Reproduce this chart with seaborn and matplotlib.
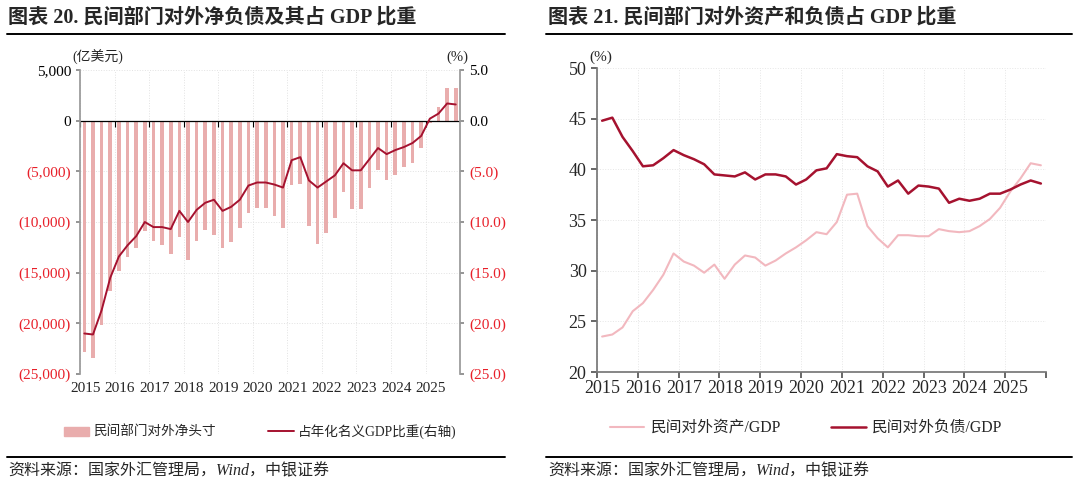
import numpy as np
import pandas as pd
import matplotlib
matplotlib.use('Agg')
import matplotlib.pyplot as plt
import seaborn as sns
from matplotlib.ticker import FuncFormatter
from matplotlib.lines import Line2D
from matplotlib.patches import Patch

# quarters 2015Q1 - 2025Q4
years = list(range(2015, 2026))
quarters = [f"{y}Q{q}" for y in years for q in range(1, 5)]

# 民间部门对外净头寸 (亿美元)
net_position = [-22800, -23400, -20200, -16800, -14800, -13500, -12600, -10900,
                -11900, -12300, -13200, -11500, -13700, -11900, -10800, -11300,
                -12600, -12000, -10600, -9100, -8600, -8600, -9400, -10600,
                -6300, -6200, -10400, -12200, -11100, -9600, -7000, -8700,
                -8700, -6600, -4900, -5900, -5400, -4600, -4200, -2700,
                -200, 1400, 3200, 3200]
# 占年化名义GDP比重 (%)
net_share = [-21.0, -21.1, -18.7, -15.5, -13.4, -12.3, -11.4, -10.0,
             -10.5, -10.5, -10.7, -8.9, -10.0, -8.8, -8.1, -7.8,
             -8.9, -8.5, -7.8, -6.4, -6.1, -6.1, -6.3, -6.6,
             -3.9, -3.6, -5.9, -6.6, -6.0, -5.4, -4.2, -4.9,
             -4.9, -3.8, -2.7, -3.3, -2.9, -2.6, -2.2, -1.5,
             0.2, 0.7, 1.7, 1.6]

# 民间对外资产/GDP, 民间对外负债/GDP (%)
assets_gdp = [23.5, 23.7, 24.4, 26.0, 26.8, 28.1, 29.6, 31.7,
              30.9, 30.5, 29.8, 30.6, 29.2, 30.6, 31.5, 31.3,
              30.5, 31.0, 31.7, 32.3, 33.0, 33.8, 33.6, 34.8,
              37.5, 37.6, 34.4, 33.2, 32.3, 33.5, 33.5, 33.4,
              33.4, 34.1, 33.9, 33.8, 33.9, 34.4, 35.1, 36.2,
              37.8, 39.1, 40.6, 40.4]
liab_gdp = [44.8, 45.1, 43.2, 41.8, 40.3, 40.4, 41.1, 41.9,
            41.4, 41.0, 40.5, 39.5, 39.4, 39.3, 39.7, 39.0,
            39.5, 39.5, 39.3, 38.5, 39.0, 39.9, 40.1, 41.5,
            41.3, 41.2, 40.3, 39.8, 38.3, 38.9, 37.6, 38.4,
            38.3, 38.1, 36.7, 37.1, 36.9, 37.1, 37.6, 37.6,
            38.0, 38.5, 38.9, 38.6]

df = pd.DataFrame({'quarter': quarters, 'net': net_position, 'share': net_share,
                   'assets': assets_gdp, 'liab': liab_gdp})
df['x'] = [int(q[:4]) + (int(q[-1]) - 0.5) / 4 for q in df['quarter']]

sns.set_theme(style='white')
plt.rcParams['font.family'] = ['Liberation Serif', 'Noto Sans CJK SC']
plt.rcParams['axes.unicode_minus'] = False

RED_TXT = '#E8202A'
BAR_C = '#E9ADAD'
DARK = '#A5122F'
LIGHT = '#F2B8BF'

fig = plt.figure(figsize=(10.8, 4.9), dpi=100)


def neg_fmt(fmt):
    def f(v, pos):
        if v < 0:
            return '(' + fmt.format(-v) + ')'
        return fmt.format(v)
    return FuncFormatter(f)


def color_neg(ax_axis):
    for lab, loc in zip(ax_axis.get_ticklabels(), ax_axis.get_ticklocs()):
        lab.set_color(RED_TXT if loc < 0 else 'black')


# ---------- left chart ----------
ax1 = fig.add_axes([0.0741, 0.2367, 0.3519, 0.6204])
sns.barplot(data=df, x='x', y='net', native_scale=True, orient='x', width=0.42,
            color=BAR_C, saturation=1, errorbar=None, linewidth=0, ax=ax1)
ax1.set_xlim(2015, 2026)
ax1.set_ylim(-25000, 5000)
ax1.set_yticks(np.arange(-25000, 5001, 5000))
ax1.yaxis.set_major_formatter(neg_fmt('{:,.0f}'))
ax1.grid(True, color='#e2e2e2', linestyle=':', linewidth=0.7)
ax1.set_axisbelow(True)
ax1.axhline(0, color='black', linewidth=0.9)
ax1.plot(years, [0] * len(years), ls='none', marker=3, ms=4, color='black', mew=0.8)
ax1.set_xticks(years + [2026])
ax1.set_xticklabels([])
ax1.set_xticks([y + 0.15 for y in years], minor=True)
ax1.set_xticklabels([str(y) for y in years], minor=True)
ax1.tick_params(axis='x', which='both', length=0, labelsize=11, pad=6)
ax1.tick_params(axis='y', length=3, direction='out', left=True, labelsize=11, color='#888888')
for s in ['top', 'bottom', 'right']:
    ax1.spines[s].set_visible(False)
ax1.spines['left'].set_color('#999999')
ax1.set_xlabel('')
ax1.set_ylabel('')

ax1r = ax1.twinx()
sns.lineplot(data=df, x='x', y='share', color=DARK, linewidth=1.4, ax=ax1r)
ax1r.set_ylim(-25, 5)
ax1r.set_yticks(np.arange(-25, 5.1, 5))
ax1r.yaxis.set_major_formatter(neg_fmt('{:.1f}'))
ax1r.tick_params(axis='y', length=3, direction='out', right=True, labelsize=11, color='#888888')
for s in ['top', 'bottom', 'left']:
    ax1r.spines[s].set_visible(False)
ax1r.spines['right'].set_color('#999999')
ax1r.set_xlabel('')
ax1r.set_ylabel('')
ax1r.set_xlim(2015, 2026)
color_neg(ax1.yaxis)
color_neg(ax1r.yaxis)

fig.text(98 / 1080, 1 - 57 / 490, '(亿美元)', fontsize=10, ha='center', va='center')
fig.text(457 / 1080, 1 - 57 / 490, '(%)', fontsize=10.5, ha='center', va='center')

fig.legend(handles=[Patch(color=BAR_C, label='民间部门对外净头寸'),
                    Line2D([], [], color=DARK, linewidth=1.4, label='占年化名义GDP比重(右轴)')],
           loc='center', bbox_to_anchor=(260 / 1080, 1 - 432 / 490), ncol=2, frameon=False,
           fontsize=9.8, handlelength=1.9, handleheight=0.7, columnspacing=3.8, handletextpad=0.3)

# ---------- right chart ----------
ax2 = fig.add_axes([0.5528, 0.2408, 0.4157, 0.6204])
sns.lineplot(data=df, x='x', y='assets', color=LIGHT, linewidth=1.5, ax=ax2)
sns.lineplot(data=df, x='x', y='liab', color=DARK, linewidth=1.8, ax=ax2)
ax2.set_xlim(2015, 2026)
ax2.set_ylim(20, 50)
ax2.set_yticks(np.arange(20, 51, 5))
ax2.set_xticks(years + [2026])
ax2.set_xticklabels([])
ax2.set_xticks([y + 0.13 for y in years], minor=True)
ax2.set_xticklabels([str(y) for y in years], minor=True)
ax2.tick_params(axis='x', which='major', length=4, direction='out', bottom=True, color='#555555')
ax2.tick_params(axis='x', which='minor', length=0, labelsize=13, pad=6)
ax2.tick_params(axis='y', length=4, direction='out', left=True, labelsize=13, color='#555555')
ax2.grid(True, which='major', color='#e6e6e6', linestyle=':', linewidth=0.7)
for s in ['top', 'right']:
    ax2.spines[s].set_visible(False)
ax2.spines['left'].set_color('#777777')
ax2.spines['bottom'].set_color('#777777')
ax2.set_xlabel('')
ax2.set_ylabel('')
fig.text(601 / 1080, 1 - 57 / 490, '(%)', fontsize=11, ha='center', va='center')

fig.legend(handles=[Line2D([], [], color=LIGHT, linewidth=1.5, label='民间对外资产/GDP'),
                    Line2D([], [], color=DARK, linewidth=1.8, label='民间对外负债/GDP')],
           loc='center', bbox_to_anchor=(806 / 1080, 1 - 428 / 490), ncol=2, frameon=False,
           fontsize=11.3, handlelength=2.2, columnspacing=3.2, handletextpad=0.4)

# ---------- titles, rules, sources ----------
fig.text(8 / 1080, 1 - 18 / 490, '图表 20. 民间部门对外净负债及其占 GDP 比重',
         fontsize=14.5, fontweight='bold', ha='left', va='center')
fig.text(548 / 1080, 1 - 18 / 490, '图表 21. 民间部门对外资产和负债占 GDP 比重',
         fontsize=14.5, fontweight='bold', ha='left', va='center')
for x0, x1 in [(7, 505), (546, 1072)]:
    fig.add_artist(Line2D([x0 / 1080, x1 / 1080], [1 - 34 / 490] * 2, color='black', linewidth=1.4))
    fig.add_artist(Line2D([x0 / 1080, x1 / 1080], [1 - 457 / 490] * 2, color='black', linewidth=1.4))
fig.text(8 / 1080, 1 - 471 / 490, '资料来源：国家外汇管理局，Wind，中银证券',
         fontsize=11.5, style='italic', ha='left', va='center')
fig.text(548 / 1080, 1 - 471 / 490, '资料来源：国家外汇管理局，Wind，中银证券',
         fontsize=11.5, style='italic', ha='left', va='center')

fig.savefig('out.png', dpi=100)
